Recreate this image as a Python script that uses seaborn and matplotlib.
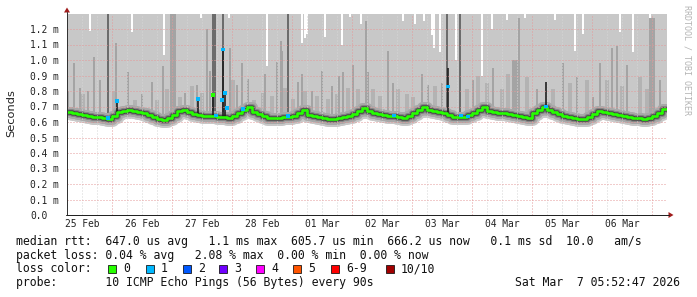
import numpy as np
import pandas as pd
import matplotlib
matplotlib.use("Agg")
import matplotlib.pyplot as plt
import matplotlib.dates as mdates
import matplotlib.transforms as mtrans
from matplotlib.patches import Rectangle, Polygon
from matplotlib.lines import Line2D
import seaborn as sns

# ---------------- data ----------------
START = "2026-02-25 05:52:47"
END = "2026-03-07 05:52:47"
STEP_HOURS = 2

# median rtt in ms, one value per 2 hours
median_ms = [
    0.664, 0.660, 0.654, 0.648, 0.640, 0.635, 0.630, 0.624, 0.622, 0.640,
    0.664, 0.672, 0.677, 0.672, 0.665, 0.656, 0.645, 0.635, 0.620, 0.612,
    0.626, 0.645, 0.668, 0.677, 0.662, 0.650, 0.642, 0.640, 0.640, 0.636,
    0.634, 0.630, 0.624, 0.640, 0.660, 0.677, 0.700, 0.665, 0.650, 0.636,
    0.629, 0.628, 0.629, 0.630, 0.635, 0.640, 0.660, 0.680, 0.648, 0.638,
    0.630, 0.625, 0.620, 0.622, 0.626, 0.630, 0.640, 0.650, 0.670, 0.690,
    0.670, 0.660, 0.654, 0.648, 0.640, 0.636, 0.630, 0.624, 0.640, 0.656,
    0.680, 0.695, 0.675, 0.668, 0.662, 0.656, 0.645, 0.634, 0.634, 0.634,
    0.645, 0.660, 0.680, 0.695, 0.672, 0.664, 0.660, 0.656, 0.650, 0.644,
    0.638, 0.630, 0.626, 0.660, 0.680, 0.698, 0.675, 0.662, 0.652, 0.640,
    0.632, 0.625, 0.618, 0.620, 0.634, 0.650, 0.668, 0.662, 0.658, 0.654,
    0.645, 0.636, 0.632, 0.628, 0.626, 0.618, 0.625, 0.636, 0.660, 0.685,
]

# medium grey smoke spikes (hours after start, top in ms)
spike_hours = [0.4, 2.8, 5.2, 8.4, 10.8, 13.2, 19.6, 24.4, 30.0, 34.0,
               38.4, 41.6, 42.4, 43.2, 47.2, 52.0, 56.0, 57.2, 65.2, 68.0,
               70.0, 72.4, 79.2, 84.0, 85.6, 86.0, 92.4, 94.0, 98.0, 102.0,
               106.0, 108.8, 110.4, 114.4, 119.6, 120.4, 128.4, 130.4, 142.0, 144.4,
               150.0, 162.4, 170.4, 178.4, 179.2, 180.0, 180.8, 188.0, 198.4, 204.0,
               210.4, 213.2, 218.0, 220.0, 224.0, 233.2, 234.0, 234.8, 237.2]
spike_tops = [0.80, 0.98, 0.82, 0.80, 1.02, 0.87, 1.11, 0.92, 0.78, 0.86,
              0.96, 1.30, 1.30, 1.30, 0.79, 0.84, 1.20, 0.93, 1.08, 0.84,
              0.98, 0.88, 0.91, 0.99, 1.12, 1.06, 0.86, 0.91, 0.80, 0.93,
              0.83, 0.90, 0.92, 0.97, 1.25, 0.92, 1.06, 0.85, 0.91, 0.84,
              0.85, 0.87, 0.95, 1.00, 1.00, 1.00, 1.27, 0.81, 0.98, 0.89,
              0.76, 0.98, 1.08, 1.09, 0.97, 1.27, 1.27, 1.27, 0.87]

# lighter, lower smoke hills
hill_hours = [6.4, 18.8, 27.2, 36.0, 40.0, 45.2, 50.0, 54.0, 66.4, 74.8,
              78.4, 82.0, 87.2, 90.4, 95.2, 100.0, 104.4, 108.0, 112.4, 116.4,
              122.4, 125.2, 132.4, 136.0, 138.4, 147.2, 160.0, 164.4, 168.0, 174.0,
              176.4, 184.0, 194.4, 201.2, 208.0, 216.0, 222.0, 229.2, 232.0]
hill_tops = [0.78, 0.80, 0.74, 0.74, 0.81, 0.76, 0.83, 0.79, 0.87, 0.74,
             0.79, 0.77, 0.82, 0.75, 0.80, 0.77, 0.75, 0.78, 0.82, 0.81,
             0.81, 0.77, 0.81, 0.78, 0.76, 0.83, 0.81, 0.90, 0.85, 0.81,
             0.91, 0.89, 0.81, 0.85, 0.87, 0.87, 0.83, 0.89, 0.81]

# dark grey full-height stripes
dark_hours = [16.4, 58.4, 59.2, 62.4, 88.4, 152.0, 157.2]
dark_tops = [1.30, 1.30, 1.30, 1.30, 1.30, 1.30, 1.30]

# black (tight smoke) spikes above the median
black_hours = [20.0, 52.4, 58.4, 62.4, 63.2, 152.4, 191.6]
black_tops = [0.74, 0.76, 0.78, 1.07, 0.79, 0.95, 0.86]

# white gaps at the top of the light smoke (max ping below 1.3 ms)
notch_hours = [9.2, 26.0, 38.8, 53.6, 64.8, 80.0, 94.0, 95.2, 96.0, 103.2,
               110.0, 113.2, 117.6, 134.4, 139.2, 142.8, 146.0, 146.8, 149.2, 155.6,
               166.0, 170.0, 176.0, 183.2, 195.2, 203.2, 206.4, 221.2, 226.4, 233.2]
notch_bottoms = [1.19, 1.18, 1.03, 1.27, 1.27, 0.96, 1.11, 1.14, 1.17, 1.15,
                 1.10, 1.28, 1.23, 1.25, 1.23, 1.25, 1.16, 1.08, 1.05, 1.00,
                 0.90, 1.20, 1.26, 1.27, 1.26, 1.06, 1.17, 1.18, 1.05, 1.27]

# median samples with packet loss / outliers (hours, rtt ms, lost pings)
event_hours = [16.4, 20.0, 52.4, 58.4, 59.6, 62.0, 62.4, 63.2, 64.0, 70.4,
               88.4, 130.8, 152.4, 157.6, 160.4, 191.6]
event_rtt = [0.626, 0.735, 0.748, 0.774, 0.640, 0.742, 1.07, 0.787, 0.690, 0.684,
             0.639, 0.640, 0.830, 0.640, 0.634, 0.700]
event_loss = [1, 1, 1, 0, 1, 1, 1, 1, 1, 1, 1, 1, 1, 1, 1, 1]

loss_labels = ["0", "1", "2", "3", "4", "5", "6-9", "10/10"]
loss_colors = ["#26ff00", "#00b8ff", "#0059ff", "#7000ff", "#ff00ff",
               "#ff5500", "#ff0000", "#a10000"]

ytick_vals = [0.0, 0.1, 0.2, 0.3, 0.4, 0.5, 0.6, 0.7, 0.8, 0.9, 1.0, 1.1, 1.2]
ytick_labels = ["0.0", "0.1 m", "0.2 m", "0.3 m", "0.4 m", "0.5 m", "0.6 m",
                "0.7 m", "0.8 m", "0.9 m", "1.0 m", "1.1 m", "1.2 m"]
xtick_days = ["2026-02-25 12:00", "2026-02-26 12:00", "2026-02-27 12:00",
              "2026-02-28 12:00", "2026-03-01 12:00", "2026-03-02 12:00",
              "2026-03-03 12:00", "2026-03-04 12:00", "2026-03-05 12:00",
              "2026-03-06 12:00"]
xtick_labels = ["25 Feb", "26 Feb", "27 Feb", "28 Feb", "01 Mar", "02 Mar",
                "03 Mar", "04 Mar", "05 Mar", "06 Mar"]

legend_line1 = "median rtt:  647.0 us avg   1.1 ms max  605.7 us min  666.2 us now   0.1 ms sd  10.0   am/s"
legend_line2 = "packet loss: 0.04 % avg   2.08 % max  0.00 % min  0.00 % now"
legend_line3 = "loss color:"
legend_line4 = "probe:       10 ICMP Echo Pings (56 Bytes) every 90s"
stamp = "Sat Mar  7 05:52:47 2026"

# ---------------- figure ----------------
sns.set_style("white")
plt.rcParams["font.family"] = ["DejaVu Sans"]
MONO = "DejaVu Sans Mono"

W, H = 697, 297
fig = plt.figure(figsize=(W / 100, H / 100), dpi=100)
pix = mtrans.Affine2D().scale(1 / W, -1 / H).translate(0, 1) + fig.transFigure

ax = fig.add_axes([67 / W, 1 - 215 / H, 600 / W, 201.5 / H])

t0 = pd.Timestamp(START)
t1 = pd.Timestamp(END)
x0 = mdates.date2num(t0.to_pydatetime())
x1 = mdates.date2num(t1.to_pydatetime())
HOUR = 1 / 24.0


def hx(h):
    return x0 + np.asarray(h, dtype=float) * HOUR


n = len(median_ms)
edges = hx(np.arange(n + 1) * STEP_HOURS)
med_post = np.append(median_ms, median_ms[-1])
PX = 0.72  # points per pixel


def med_at(h):
    return np.array([median_ms[min(int(v // STEP_HOURS), n - 1)] for v in h])


# light smoke (min .. max ping)
ax.fill_between(edges, med_post, 1.3, step="post", color="#c8c8c8", lw=0, zorder=1)
sns.lineplot(x=edges, y=med_post, drawstyle="steps-post", color="#c8c8c8",
             lw=15 * PX, ax=ax, zorder=1.1, estimator=None, sort=False)

# white top gaps
ax.bar(hx(notch_hours), 1.3 - np.array(notch_bottoms), bottom=notch_bottoms,
       width=0.7 * HOUR, color="white", lw=0, zorder=1.2, align="center")

# lighter smoke hills
ax.bar(hx(hill_hours), np.array(hill_tops) - med_at(hill_hours),
       bottom=med_at(hill_hours), width=1.3 * HOUR, color="#b3b3b3", lw=0,
       zorder=1.25)
# medium grey spikes
ax.bar(hx(spike_hours), np.array(spike_tops) - med_at(spike_hours),
       bottom=med_at(spike_hours), width=0.6 * HOUR, color="#a4a4a4", lw=0,
       zorder=1.3)
# dark grey stripes
ax.bar(hx(dark_hours), np.array(dark_tops) - med_at(dark_hours),
       bottom=med_at(dark_hours), width=0.6 * HOUR, color="#6c6c6c", lw=0,
       zorder=1.4)

# smoke bands around the median
for lw, col, z in [(11, "#a8a8a8", 2.0), (7, "#858585", 2.1), (4.5, "#474747", 2.2)]:
    sns.lineplot(x=edges, y=med_post, drawstyle="steps-post", color=col,
                 lw=lw * PX, ax=ax, zorder=z, estimator=None, sort=False)

# black spikes
ax.vlines(hx(black_hours), med_at(black_hours), black_tops, color="#1a1a1a",
          lw=1.6 * PX, zorder=2.5)

# grid (on top of smoke)
for d in pd.date_range("2026-02-25 06:00", END, freq="6h"):
    xd = mdates.date2num(d.to_pydatetime())
    if d.hour == 0:
        ax.axvline(xd, color="#e49a9a", lw=1 * PX, ls=(0, (1, 2)), zorder=2.6)
    else:
        ax.axvline(xd, color="#d6d6d6", lw=1 * PX, ls=(0, (1, 2)), zorder=2.6)
for v in ytick_vals[1:]:
    ax.axhline(v, color="#e49a9a", lw=1 * PX, ls=(0, (1, 2)), zorder=2.6)

# median line
sns.lineplot(x=edges, y=med_post, drawstyle="steps-post", color=loss_colors[0],
             lw=2.6 * PX, ax=ax, zorder=3, estimator=None, sort=False)
ax.scatter(hx(event_hours), event_rtt, marker="s", s=(3.2 * PX) ** 2,
           c=[loss_colors[k] for k in event_loss], linewidths=0, zorder=3.5)

ax.set_xlim(x0, x1)
ax.set_ylim(0, 1.3)
for s in ax.spines.values():
    s.set_visible(False)
ax.grid(False)

ax.set_yticks(ytick_vals)
ax.set_yticklabels(ytick_labels, family=MONO, fontsize=6.9, color="#222222")
for lbl in ax.get_yticklabels():
    lbl.set_horizontalalignment("left")
ax.tick_params(axis="y", length=0, pad=37 * PX)
ax.set_xticks([mdates.date2num(pd.Timestamp(d).to_pydatetime()) for d in xtick_days])
ax.set_xticklabels(xtick_labels, family=MONO, fontsize=6.9, color="#222222")
ax.tick_params(axis="x", length=0, pad=3.2)

# axes with arrows
fig.add_artist(Line2D([67, 67], [215, 12], transform=pix, color="#333333", lw=1 * PX))
fig.add_artist(Line2D([66, 669], [215, 215], transform=pix, color="#222222", lw=1 * PX))
fig.add_artist(Polygon([[64, 12.5], [70, 12.5], [67, 7.5]], closed=True,
                       transform=pix, color="#a01c1c", lw=0))
fig.add_artist(Polygon([[668.5, 212], [668.5, 218], [673.5, 215]], closed=True,
                       transform=pix, color="#a01c1c", lw=0))

# labels
fig.text(11, 113.5, "Seconds", transform=pix, rotation=90, ha="center",
         va="center", fontsize=8.2, color="#222222")
fig.text(687, 5, "RRDTOOL / TOBI OETIKER", transform=pix, rotation=270,
         ha="center", va="top", family=MONO, fontsize=6.0, color="#b4b4b4")

LEG = dict(transform=pix, family=MONO, fontsize=8.3, color="#111111",
           va="baseline", ha="left")
fig.text(16, 245.0, legend_line1, **LEG)
fig.text(16, 258.7, legend_line2, **LEG)
fig.text(16, 272.4, legend_line3, **LEG)
fig.text(16, 286.1, legend_line4, **LEG)
fig.text(680, 286.1, stamp, **{**LEG, "ha": "right"})

square_x = [108, 146, 183, 219, 256, 293, 331, 386]
for sxp, lab, col in zip(square_x, loss_labels, loss_colors):
    fig.add_artist(Rectangle((sxp, 264.5), 8, 8, transform=pix, facecolor=col,
                             edgecolor="#111111", lw=0.8 * PX))
    fig.text(sxp + 15, 272.4, lab, **LEG)

fig.savefig("out.png", dpi=100)
